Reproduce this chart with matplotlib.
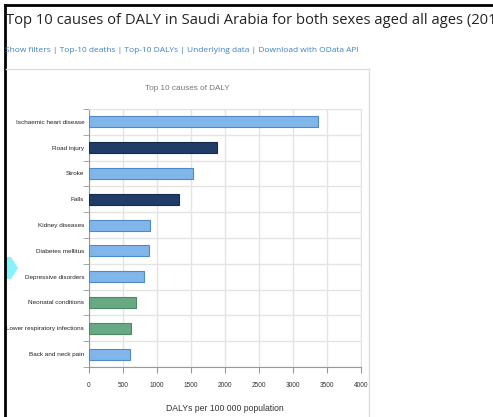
import numpy as np
import matplotlib
matplotlib.use('Agg')
from matplotlib import pyplot as plt
from matplotlib.patches import Polygon
from matplotlib.lines import Line2D

#%% Data

causes = ['Ischaemic heart disease', 'Road injury', 'Stroke', 'Falls',
          'Kidney diseases', 'Diabetes mellitus', 'Depressive disorders',
          'Neonatal conditions', 'Lower respiratory infections', 'Back and neck pain']
dalys = [3370, 1880, 1525, 1330, 892, 888, 810, 695, 615, 605]
groups = ['ncd', 'inj', 'ncd', 'inj', 'ncd', 'ncd', 'ncd', 'com', 'com', 'ncd']
xticks = [0, 500, 1000, 1500, 2000, 2500, 3000, 3500, 4000]

page_title = 'Top 10 causes of DALY in Saudi Arabia for both sexes aged all ages (2019)'
links = 'Show filters | Top-10 deaths | Top-10 DALYs | Underlying data | Download with OData API'

fill = {'ncd': '#80b6ea', 'inj': '#223c6a', 'com': '#67a983'}
edge = {'ncd': '#5089c8', 'inj': '#172a4c', 'com': '#4c8a66'}

#%% Plot

W, H = 493, 417
fig = plt.figure(figsize=(W/100, H/100), dpi=100)
fig.patch.set_facecolor('white')

sans = ['Liberation Sans', 'DejaVu Sans']

# page decorations (black frame, chart box)
fig.add_artist(Line2D([5/W, 5/W], [0, 1 - 5/H], color='black', lw=2))
fig.add_artist(Line2D([5/W, 1], [1 - 5/H, 1 - 5/H], color='black', lw=2))
fig.add_artist(Line2D([6/W, 369/W], [1 - 69/H, 1 - 69/H], color='#dddddd', lw=1))
fig.add_artist(Line2D([369/W, 369/W], [0, 1 - 69/H], color='#dddddd', lw=1))
arrow = [(6, 257), (11, 257), (18, 268), (11, 279), (6, 279)]
fig.add_artist(Polygon([(x/W, 1 - y/H) for x, y in arrow], closed=True,
                       facecolor='#86f2fb', edgecolor='none'))

fig.text(6/W, 1 - 21/H, page_title, fontsize=10.6, family='Open Sans',
         color='#222222', va='center', ha='left')
fig.text(5/W, 1 - 50/H, links, fontsize=6.0, family='Open Sans',
         color='#3d80c6', va='center', ha='left')
fig.text(187/W, 1 - 89/H, 'Top 10 causes of DALY', fontsize=5.9, family=sans,
         color='#777777', va='center', ha='center')

ax = fig.add_axes([89/W, 50/H, 272/W, 258/H])
ypos = np.arange(len(causes))
for i in ypos:
    ax.barh(ypos[i], dalys[i], height=0.43, color=fill[groups[i]],
            edgecolor=edge[groups[i]], linewidth=0.8, zorder=3)

ax.set_xlim(0, 4000)
ax.set_ylim(len(causes) - 0.5, -0.5)
ax.set_xticks(xticks)
ax.set_xticklabels([str(v) for v in xticks], fontsize=4.7, family=sans, color='#333333')
ax.set_yticks(ypos)
ax.set_yticklabels(causes, fontsize=4.6, family=sans, color='#222222')
ax.set_yticks(np.arange(len(causes) + 1) - 0.5, minor=True)
ax.tick_params(axis='y', which='major', length=0, pad=3.5)
ax.tick_params(axis='y', which='minor', length=4, color='#999999', direction='out')
ax.tick_params(axis='x', length=4, color='#999999', direction='out', pad=6.5)
ax.grid(axis='x', color='#e4e4e4', lw=1, zorder=0)
ax.grid(axis='y', which='minor', color='#e4e4e4', lw=1, zorder=0)
for s in ['top', 'right']:
    ax.spines[s].set_color('#e4e4e4')
for s in ['left', 'bottom']:
    ax.spines[s].set_color('#999999')
ax.set_xlabel('DALYs per 100 000 population', fontsize=6.2, family=sans,
              color='#333333', labelpad=11)

plt.savefig('out.png', dpi=100)
